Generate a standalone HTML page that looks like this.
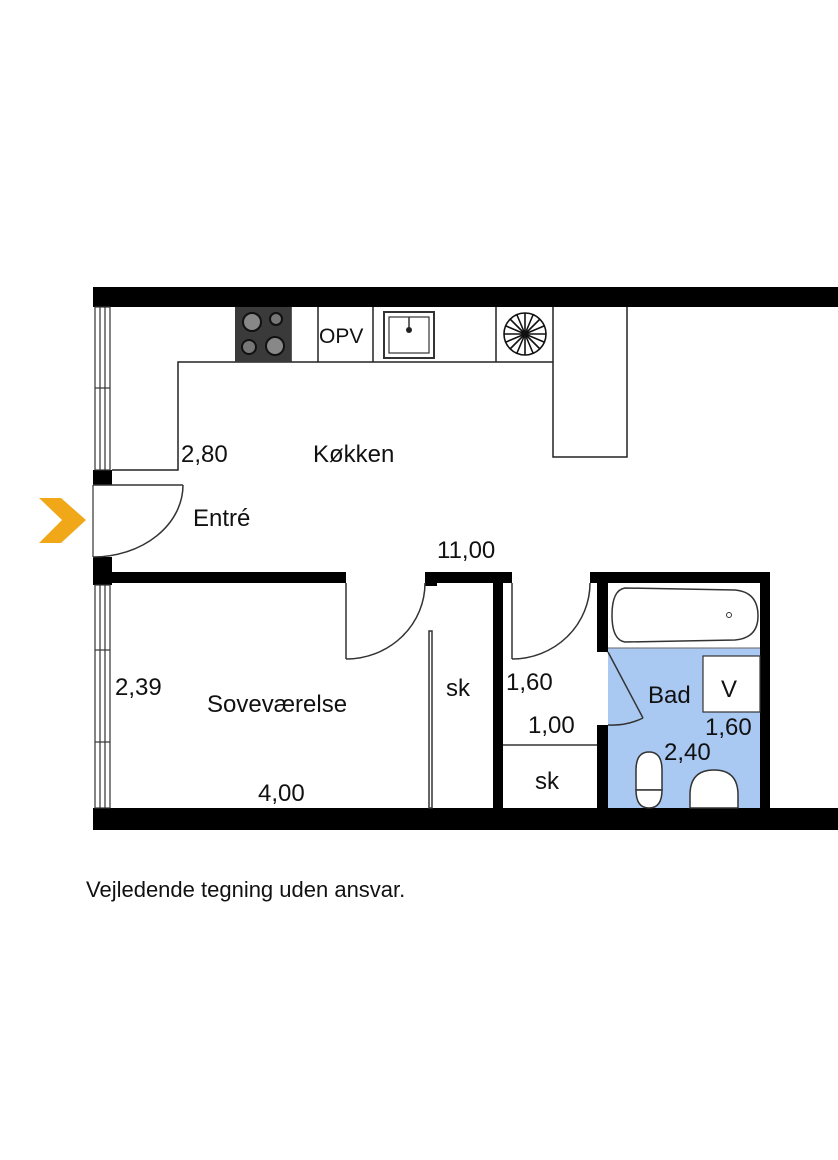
<!DOCTYPE html>
<html><head><meta charset="utf-8"><style>
html,body{margin:0;padding:0;background:#fff}
svg{display:block}
text{font-family:"Liberation Sans",sans-serif;fill:#111}
</style></head><body>
<svg width="838" height="1160" viewBox="0 0 838 1160" xmlns="http://www.w3.org/2000/svg">
<rect width="838" height="1160" fill="#fff"/>
<!-- blue bath -->
<rect x="608" y="648" width="152" height="160" fill="#a9c8f2"/>
<!-- outer walls -->
<rect x="93" y="287" width="745" height="20" fill="#000"/>
<rect x="93" y="808" width="745" height="22" fill="#000"/>
<rect x="93" y="470" width="19" height="15" fill="#000"/>
<rect x="93" y="557" width="19" height="28" fill="#000"/>
<!-- windows -->
<g fill="none" stroke="#333" stroke-width="1.2">
<rect x="95" y="307" width="15" height="163"/>
<line x1="100" y1="307" x2="100" y2="470"/><line x1="105" y1="307" x2="105" y2="470"/>
<line x1="95" y1="388" x2="110" y2="388"/>
<rect x="95" y="585" width="15" height="223"/>
<line x1="100" y1="585" x2="100" y2="808"/><line x1="105" y1="585" x2="105" y2="808"/>
<line x1="95" y1="650" x2="110" y2="650"/><line x1="95" y1="742" x2="110" y2="742"/>
<line x1="93" y1="485" x2="93" y2="557"/>
</g>
<!-- interior walls -->
<rect x="112" y="572" width="234" height="11" fill="#000"/>
<rect x="425" y="572" width="87" height="11" fill="#000"/>
<rect x="425" y="572" width="12" height="14" fill="#000"/>
<rect x="493" y="572" width="10" height="236" fill="#000"/>
<rect x="590" y="572" width="180" height="11" fill="#000"/>
<rect x="597" y="572" width="11" height="80" fill="#000"/>
<rect x="597" y="725" width="11" height="83" fill="#000"/>
<rect x="760" y="572" width="10" height="236" fill="#000"/>
<!-- kitchen counter -->
<g fill="none" stroke="#222" stroke-width="1.5">
<polyline points="112,470 178,470 178,362 553,362"/>
<polyline points="553,307 553,457 627,457 627,307"/>
<line x1="291" y1="307" x2="291" y2="362"/>
<line x1="318" y1="307" x2="318" y2="362"/>
<line x1="373" y1="307" x2="373" y2="362"/>
<line x1="496" y1="307" x2="496" y2="362"/>
</g>
<!-- stove -->
<rect x="235" y="307" width="56" height="55" fill="#3a3a3a"/>
<circle cx="252" cy="322" r="9" fill="#888" stroke="#111" stroke-width="2"/>
<circle cx="276" cy="319" r="6" fill="#777" stroke="#111" stroke-width="2"/>
<circle cx="249" cy="347" r="7" fill="#777" stroke="#111" stroke-width="2"/>
<circle cx="275" cy="346" r="9" fill="#888" stroke="#111" stroke-width="2"/>
<text x="319" y="343" font-size="21">OPV</text>
<!-- sink -->
<rect x="384" y="312" width="50" height="46" fill="none" stroke="#333" stroke-width="2"/>
<rect x="389" y="317" width="40" height="36" fill="none" stroke="#333" stroke-width="1.2"/>
<line x1="409" y1="317" x2="409" y2="328" stroke="#333" stroke-width="1.5"/>
<circle cx="409" cy="330" r="3" fill="#222"/>
<!-- fan -->
<g stroke="#111" stroke-width="1.6" fill="none">
<circle cx="525" cy="334" r="21"/>
<line x1="504" y1="334" x2="546" y2="334"/><line x1="525" y1="313" x2="525" y2="355"/>
<line x1="510" y1="319" x2="540" y2="349"/><line x1="540" y1="319" x2="510" y2="349"/>
<line x1="506" y1="326" x2="544" y2="342"/><line x1="506" y1="342" x2="544" y2="326"/>
<line x1="517" y1="315" x2="533" y2="353"/><line x1="533" y1="315" x2="517" y2="353"/>
</g>
<!-- doors -->
<g fill="none" stroke="#333" stroke-width="1.5">
<line x1="93" y1="485" x2="183" y2="485"/>
<path d="M183,485 A90,72 0 0 1 93,557"/>
<line x1="346" y1="583" x2="346" y2="659"/>
<path d="M346,659 A79,76 0 0 0 425,583"/>
<line x1="512" y1="583" x2="512" y2="659"/>
<path d="M512,659 A78,76 0 0 0 590,583"/>
<line x1="608" y1="652" x2="643" y2="718"/>
<path d="M643,718 A70,70 0 0 1 608,725"/>
<rect x="429" y="631" width="3" height="177"/>
<line x1="503" y1="745" x2="597" y2="745"/>
</g>
<!-- bath -->
<path d="M625,588 L735,590 Q758,592 758,616 Q758,638 735,640 L625,642 Q612,640 612,615 Q612,590 625,588 Z" fill="#fff" stroke="#333" stroke-width="1.5"/>
<circle cx="729" cy="615" r="2.5" fill="none" stroke="#333"/>
<line x1="608" y1="648" x2="760" y2="648" stroke="#666" stroke-width="1"/>
<rect x="703" y="656" width="57" height="56" fill="#fff" stroke="#333" stroke-width="1.2"/>
<!-- toilet -->
<path d="M636,790 L636,770 Q636,752 649,752 Q662,752 662,770 L662,790 Z" fill="#fff" stroke="#333" stroke-width="1.5"/>
<path d="M636,790 Q636,808 649,808 Q662,808 662,790 Z" fill="#fff" stroke="#333" stroke-width="1.5"/>
<!-- basin -->
<path d="M690,808 L690,795 Q690,770 714,770 Q738,770 738,795 L738,808 Z" fill="#fff" stroke="#333" stroke-width="1.5"/>
<!-- chevron -->
<polygon points="39,498 61,498 86,520 61,543 39,543 62,520" fill="#f0a818"/>
<!-- labels -->
<text x="181" y="462" font-size="24">2,80</text>
<text x="313" y="462" font-size="24">Køkken</text>
<text x="193" y="526" font-size="24">Entré</text>
<text x="437" y="558" font-size="24">11,00</text>
<text x="115" y="695" font-size="24">2,39</text>
<text x="207" y="712" font-size="24">Soveværelse</text>
<text x="258" y="801" font-size="24">4,00</text>
<text x="446" y="696" font-size="24">sk</text>
<text x="506" y="690" font-size="24">1,60</text>
<text x="528" y="733" font-size="24">1,00</text>
<text x="535" y="789" font-size="24">sk</text>
<text x="648" y="703" font-size="24">Bad</text>
<text x="721" y="697" font-size="24">V</text>
<text x="705" y="735" font-size="24">1,60</text>
<text x="664" y="760" font-size="24">2,40</text>
<text x="86" y="897" font-size="22">Vejledende tegning uden ansvar.</text>
</svg>
</body></html>
